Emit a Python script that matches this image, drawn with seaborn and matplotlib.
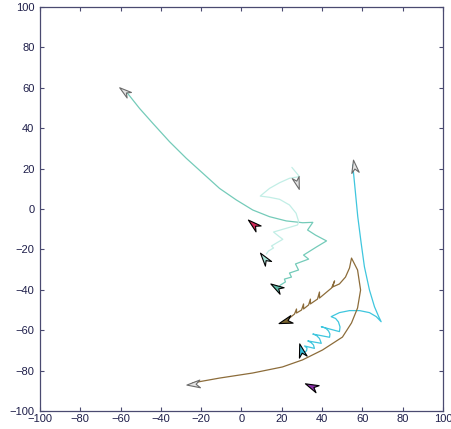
import matplotlib
matplotlib.use("Agg")
import matplotlib.pyplot as plt
import seaborn as sns
import pandas as pd
from matplotlib.path import Path
from matplotlib.markers import MarkerStyle
from matplotlib.transforms import Affine2D

# ---- trajectories (data units) ----
teal_x = [-57.2, -50.6, -44.0, -35.7, -27.4, -19.2, -10.9, -2.6, 5.6, 13.9, 22.2, 30.4,
          35.4, 32.8, 36.7, 42.2, 37.2, 30.8, 33.3, 26.8, 28.3, 23.8, 24.8, 21.3, 21.8, 19.4, 18.4]
teal_y = [58.1, 49.8, 42.4, 33.3, 25.1, 17.7, 10.2, 4.5, -0.5, -3.8, -5.9, -6.8,
          -6.6, -10.4, -12.9, -15.8, -18.8, -22.8, -24.8, -27.2, -30.2, -31.7, -33.7, -34.7, -36.1, -37.6, -38.6]

pale_x = [25.0, 27.4, 28.8, 23.8, 18.9, 13.9, 9.3, 13.9, 18.9, 23.8, 27.1, 28.4, 27.8, 23.8,
          20.3, 15.9, 18.4, 20.5, 17.4, 14.9, 15.9, 13.4, 12.3]
pale_y = [20.6, 17.7, 16.0, 15.2, 13.0, 10.2, 6.4, 5.8, 4.8, 2.0, -2.1, -6.3, -7.9, -9.1,
          -10.1, -11.4, -13.4, -15.0, -16.8, -18.3, -19.3, -20.8, -22.3]

cyan_x = [55.2, 56.1, 57.7, 59.4, 61.0, 63.5, 66.0, 68.1, 69.3, 66.9, 63.5, 58.6, 53.6, 48.6,
          44.5, 46.7, 48.1, 48.9, 48.6, 39.6, 41.7, 43.2, 43.9, 43.7, 35.4, 37.2, 38.7, 39.6,
          32.9, 34.5, 35.7, 36.2, 31.3, 32.5, 32.3, 29.8]
cyan_y = [21.8, 12.7, -3.8, -17.0, -28.6, -40.1, -48.4, -53.3, -55.8, -53.3, -51.3, -50.3, -50.3, -51.3,
          -53.3, -54.2, -55.9, -58.4, -60.7, -58.3, -58.9, -60.4, -61.9, -63.5, -61.9, -62.6, -64.1, -66.5,
          -65.3, -66.1, -67.3, -69.0, -67.8, -68.8, -70.2, -71.8]

brown_x = [-24.3, -10.9, 5.5, 20.3, 30.3, 40.2, 50.1, 54.6, 57.6, 59.1, 57.6, 54.6,
           53.6, 51.6, 48.6, 45.2, 46.2, 44.7, 41.7, 38.7, 38.7, 37.7, 34.2, 34.2, 33.3,
           30.8, 30.8, 29.8, 27.3, 27.3, 26.3, 23.8, 22.3]
brown_y = [-86.1, -83.7, -81.2, -78.2, -74.7, -69.8, -63.4, -56.4, -49.0, -40.1, -30.2, -24.3,
           -29.2, -33.7, -37.1, -38.6, -35.6, -39.1, -41.6, -44.1, -41.1, -44.6, -47.0, -44.6, -47.5,
           -49.5, -47.0, -50.0, -51.5, -49.5, -52.0, -54.0, -54.9]

# ---- arrowheads ----
arrow_x = [-58.1, 27.3, 55.6, -24.3, 5.8, 11.4, 16.9, 21.8, 29.3, 34.7]
arrow_y = [58.4, 12.9, 21.3, -86.6, -7.2, -24.3, -38.6, -55.4, -69.8, -87.6]
arrow_angle = [142, -73, 99, 185, 139, 127, 148, 198, 105, 156]
arrow_face = ["#e4e4e4", "#e4e4e4", "#e4e4e4", "#e4e4e4",
              "#d22a5a", "#a6e4d8", "#5fb8a6", "#7a6430", "#34bedc", "#8a2fa8"]
arrow_edge = ["#6a6a6a", "#6a6a6a", "#6a6a6a", "#6a6a6a",
              "black", "black", "black", "black", "black", "black"]
arrow_ms = [10, 10, 10, 10, 11, 11, 11, 11, 11, 11]

line_sets = [
    (teal_x, teal_y, "#74cbb9"),
    (pale_x, pale_y, "#c2eee6"),
    (cyan_x, cyan_y, "#3fc6de"),
    (brown_x, brown_y, "#8c6c3a"),
]

sns.set_style("white")
plt.rcParams["font.family"] = ["Liberation Sans", "DejaVu Sans"]

fig = plt.figure(figsize=(4.52, 4.29), dpi=100)
ax = fig.add_axes([40 / 452, 18 / 429, 403 / 452, 404 / 429])

for xs, ys, c in line_sets:
    df = pd.DataFrame({"x": xs, "y": ys})
    sns.lineplot(data=df, x="x", y="y", sort=False, estimator=None,
                 color=c, lw=0.9, ax=ax)

dart = Path([(1, 0), (-1, 0.58), (-0.4, 0), (-1, -0.58), (1, 0)],
            [Path.MOVETO, Path.LINETO, Path.LINETO, Path.LINETO, Path.CLOSEPOLY])
for x, y, a, fc, ec, ms in zip(arrow_x, arrow_y, arrow_angle, arrow_face, arrow_edge, arrow_ms):
    p = dart.transformed(Affine2D().rotate_deg(a))
    ax.plot([x], [y], marker=MarkerStyle(p), ms=ms, mfc=fc, mec=ec, mew=0.8,
            ls="none", zorder=5)

ax.set_xlim(-100, 100)
ax.set_ylim(-100, 100)
ticks = list(range(-100, 101, 20))
ax.set_xticks(ticks)
ax.set_yticks(ticks)
ax.set_xlabel("")
ax.set_ylabel("")
for s in ax.spines.values():
    s.set_color("#4a4a70")
    s.set_linewidth(0.9)
    s.set_visible(True)
ax.tick_params(direction="in", length=3, width=0.8, color="#4a4a70",
               labelsize=8, labelcolor="#1e1e4a", top=True, right=True,
               bottom=True, left=True)
ax.tick_params(axis="x", pad=2)
ax.tick_params(axis="y", pad=4)

fig.savefig("out.png", dpi=100)
